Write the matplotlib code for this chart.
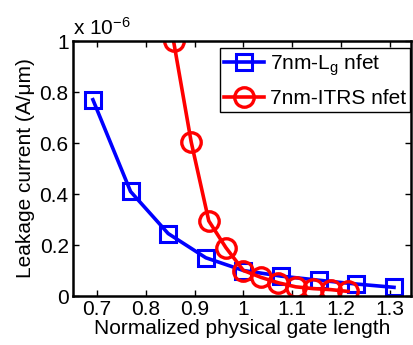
import numpy as np
import matplotlib
matplotlib.use("Agg")
import matplotlib.pyplot as plt

# data (y in units of 1e-6 A/um)
lg_x = [0.692, 0.769, 0.846, 0.923, 1.0, 1.077, 1.154, 1.231, 1.308]
lg_y = [0.77, 0.41, 0.245, 0.15, 0.10, 0.078, 0.062, 0.047, 0.034]
itrs_x = [0.857, 0.893, 0.929, 0.964, 1.0, 1.036, 1.071, 1.107, 1.143, 1.179, 1.214]
itrs_y = [1.0, 0.605, 0.295, 0.19, 0.10, 0.073, 0.052, 0.036, 0.029, 0.025, 0.018]
xticks = [0.7, 0.8, 0.9, 1.0, 1.1, 1.2, 1.3]
xtick_labels = ["0.7", "0.8", "0.9", "1", "1.1", "1.2", "1.3"]
yticks = [0, 0.2, 0.4, 0.6, 0.8, 1.0]
ytick_labels = ["0", "0.2", "0.4", "0.6", "0.8", "1"]

FS = 15
plt.rcParams.update({"font.family": "Liberation Sans", "mathtext.fontset": "custom",
                     "mathtext.rm": "Liberation Sans", "mathtext.it": "Liberation Sans"})
fig = plt.figure(figsize=(4.14, 3.45), dpi=100)
ax = fig.add_axes([0.176, 0.142, 0.817, 0.739])

ax.plot(lg_x, lg_y, "-s", color="#0000ff", lw=2.6, ms=11.5, mew=2.2, mfc="none",
        label="7nm-L$_\\mathregular{g}$ nfet")
ax.plot(itrs_x, itrs_y, "-o", color="#ff0000", lw=2.6, ms=14, mew=2.4, mfc="none",
        label="7nm-ITRS nfet")

ax.set_xlim(0.651, 1.343)
ax.set_ylim(0, 1.0)
ax.set_xticks(xticks, xtick_labels)
ax.set_yticks(yticks, ytick_labels)
ax.tick_params(direction="in", top=True, right=True, labelsize=FS, length=4, width=1,
               pad=3)
for s in ax.spines.values():
    s.set_linewidth(1.8)
ax.set_xlabel("Normalized physical gate length", fontsize=FS, labelpad=0)
ax.set_ylabel("Leakage current (A/\u03bcm)", fontsize=FS, labelpad=3)
ax.text(0.0, 1.01, "x 10$^{\\mathregular{-6}}$", transform=ax.transAxes, fontsize=FS,
        ha="left", va="bottom")

leg = ax.legend(loc="upper right", bbox_to_anchor=(0.997, 0.973), fontsize=FS,
                handlelength=1.9, handletextpad=0.3, borderpad=0.2, labelspacing=0.55,
                borderaxespad=0, fancybox=False, framealpha=1)
leg.get_frame().set_edgecolor("black")
leg.get_frame().set_linewidth(1.0)

fig.savefig("out.png", dpi=100)
